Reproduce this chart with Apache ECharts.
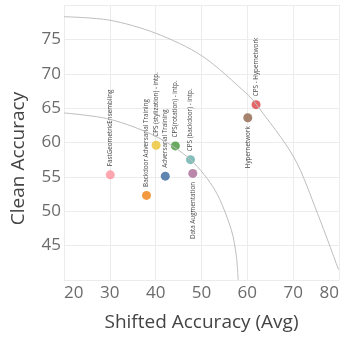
<!DOCTYPE html>
<html>
<head>
<meta charset="utf-8">
<script src="https://cdn.jsdelivr.net/npm/echarts@6/dist/echarts.min.js"></script>
<style>
  html, body { margin: 0; padding: 0; background: #fff; }
  #chart { width: 342px; height: 337px; }
</style>
</head>
<body>
<div id="chart"></div>
<script>
// methods and their scores
const methods = [
  'FastGeometricEnsembling',
  'Backdoor Adversarial Training',
  'CPS (stylization) - intp.',
  'Adversarial Training',
  'CPS(rotation) - intp.',
  'CPS (backdoor) - intp.',
  'Data Augmentation',
  'Hypernetwork',
  'CPS - Hypernetwork'
];
const shiftedAcc = [30.1, 38.0, 40.1, 42.1, 44.3, 47.6, 48.1, 60.1, 61.9];
const cleanAcc = [55.3, 52.3, 59.6, 55.1, 59.5, 57.5, 55.5, 63.6, 65.5];
const colors = ['#ff9da7', '#f28e2b', '#edc948', '#4e79a7', '#59a14f', '#76b7b2', '#b07aa1', '#9c755f', '#e15759'];
const labelBelow = ['Data Augmentation', 'Hypernetwork'];

// reference arcs
const outerArcX = [20.0, 29.9, 40.0, 50.1, 60.2, 61.9, 70.2, 75.3, 79.9];
const outerArcY = [78.3, 77.8, 75.9, 72.6, 66.9, 65.6, 57.8, 49.7, 41.5];
const innerArcX = [20.0, 29.9, 40.0, 47.6, 53.0, 56.5, 57.6, 58.0];
const innerArcY = [64.3, 63.4, 60.9, 57.5, 53.0, 47.3, 43.5, 40.0];

const xTicks = [20, 30, 40, 50, 60, 70, 80];
const yTicks = [45, 50, 55, 60, 65, 70, 75];

const font = 'Open Sans';
const myChart = echarts.init(document.getElementById('chart'));

const zip = (xs, ys) => xs.map((x, i) => [x, ys[i]]);

const arcStyle = {
  type: 'line',
  smooth: 0.3,
  symbol: 'none',
  z: 3,
  silent: true,
  lineStyle: { color: '#bdbdbd', width: 1 }
};

myChart.setOption({
  animation: false,
  grid: { left: 64, right: 0, top: 5, bottom: 53 },
  xAxis: {
    type: 'value',
    min: xTicks[0],
    max: xTicks[xTicks.length - 1],
    interval: 10,
    name: 'Shifted Accuracy (Avg)',
    nameLocation: 'middle',
    nameGap: 33,
    nameTextStyle: { fontFamily: font, fontSize: 19, color: '#444' },
    axisLine: { show: false },
    axisTick: { show: false },
    axisLabel: {
      fontFamily: font, fontSize: 17, color: '#6b6b6b', margin: 5,
      alignMinLabel: 'left', alignMaxLabel: 'right'
    },
    splitLine: { lineStyle: { color: '#ececec', width: 1 } }
  },
  yAxis: {
    type: 'value',
    min: 40,
    max: 80,
    interval: 5,
    name: 'Clean Accuracy',
    nameLocation: 'middle',
    nameGap: 36,
    nameRotate: 90,
    nameTextStyle: { fontFamily: font, fontSize: 19, color: '#444', padding: [0, 32, 0, 0] },
    axisLine: { show: false },
    axisTick: { show: false },
    axisLabel: {
      fontFamily: font, fontSize: 17, color: '#6b6b6b', margin: 3,
      showMinLabel: false, showMaxLabel: false
    },
    splitLine: { lineStyle: { color: '#ececec', width: 1 } }
  },
  series: [
    {
      type: 'scatter',
      symbolSize: 9,
      z: 2,
      data: methods.map((m, i) => {
        const below = labelBelow.includes(m);
        return {
          name: m,
          value: [shiftedAcc[i], cleanAcc[i]],
          itemStyle: { color: colors[i], opacity: 0.9 },
          label: {
            show: true,
            formatter: m,
            position: below ? 'bottom' : 'top',
            distance: 4,
            rotate: 90,
            align: below ? 'right' : 'left',
            verticalAlign: 'middle',
            fontFamily: font,
            fontSize: 6.3,
            color: '#333'
          }
        };
      })
    },
    Object.assign({ data: zip(outerArcX, outerArcY) }, arcStyle),
    Object.assign({ data: zip(innerArcX, innerArcY) }, arcStyle)
  ]
});
</script>
</body>
</html>
